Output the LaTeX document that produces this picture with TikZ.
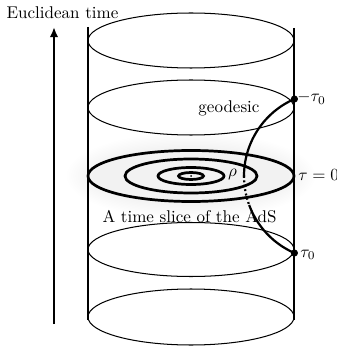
\documentclass[tikz,border=0pt]{standalone}
\usetikzlibrary{arrows.meta}
\begin{document}
\begin{tikzpicture}[x=0.588pt,y=-0.588pt,
  thinell/.style={line width=0.6pt},
  thickell/.style={line width=1.6pt},
  wall/.style={line width=1.2pt},
  lbl/.style={inner sep=0pt},
  dotpt/.style={circle,fill,inner sep=0pt,minimum size=4.2pt},
  glowlayer/.style={fill=black,fill opacity=0.005},
  geo/.style={line width=1.3pt}]
\useasboundingbox (0,0) rectangle (337,347);
% glow behind the time slice
\foreach \i in {0,...,12}
  \fill[glowlayer] (191,176) ellipse [x radius={98+2.2*\i}, y radius={27+1.4*\i}];
% slices
\draw[thinell] (191,40.5) ellipse [x radius=103, y radius=27.5];
\draw[thinell] (191,107.5) ellipse [x radius=103, y radius=27.5];
\draw[thinell] (191,249.5) ellipse [x radius=103, y radius=27];
\draw[thinell] (191,317) ellipse [x radius=103, y radius=28];
% cylinder walls
\coordinate (lt) at (88,27);
\coordinate (lb) at (88,320);
\coordinate (rt) at (294,28);
\coordinate (rb) at (294,320);
\draw[wall] (lt) -- (lb);
\draw[wall] (rt) -- (rb);
% time slice at tau = 0
\draw[thickell] (191,176) ellipse [x radius=103, y radius=25.5];
\draw[thickell] (191,176) ellipse [x radius=66, y radius=17];
\draw[thickell] (191,176) ellipse [x radius=33, y radius=8.5];
\draw[thickell] (191,176) ellipse [x radius=12.5, y radius=3.5];
\fill (191,176) circle [radius=1];
% Euclidean time arrow
\coordinate (ab) at (54,324);
\coordinate (at) at (54,27);
\draw[line width=1.2pt,-{Latex[length=6pt,width=5pt]}] (ab) -- (at);
\node[lbl] (et) at (62.5,13) {Euclidean time};
% geodesic
\node[dotpt] (mtau) at (294.4,99) {};
\node[dotpt] (tau) at (294.4,253) {};
\coordinate (rho) at (244,176);
\draw[geo] plot[domain=-66.4:0,samples=40] ({328-84*cos(\x)},{176+84*sin(\x)});
\draw[geo,dash pattern=on 1.1pt off 1.5pt] plot[domain=0:20.2,samples=20] ({328-84*cos(\x)},{176+84*sin(\x)});
\draw[geo] plot[domain=20.2:66.4,samples=40] ({328-84*cos(\x)},{176+84*sin(\x)});
\fill (rho) circle [radius=1.3];
% labels
\node[lbl] (geod) at (229,108) {geodesic};
\node[lbl,anchor=west] (lmt) at (297,98) {$-\tau_0$};
\node[lbl,anchor=west] (lt0) at (298,175.5) {$\tau=0$};
\node[lbl,anchor=west] (ltau) at (300,255) {$\tau_0$};
\node[lbl] (lrho) at (232.5,174) {$\rho$};
\node[lbl] (slice) at (189.5,216.5) {A time slice of the AdS};
\end{tikzpicture}
\end{document}
